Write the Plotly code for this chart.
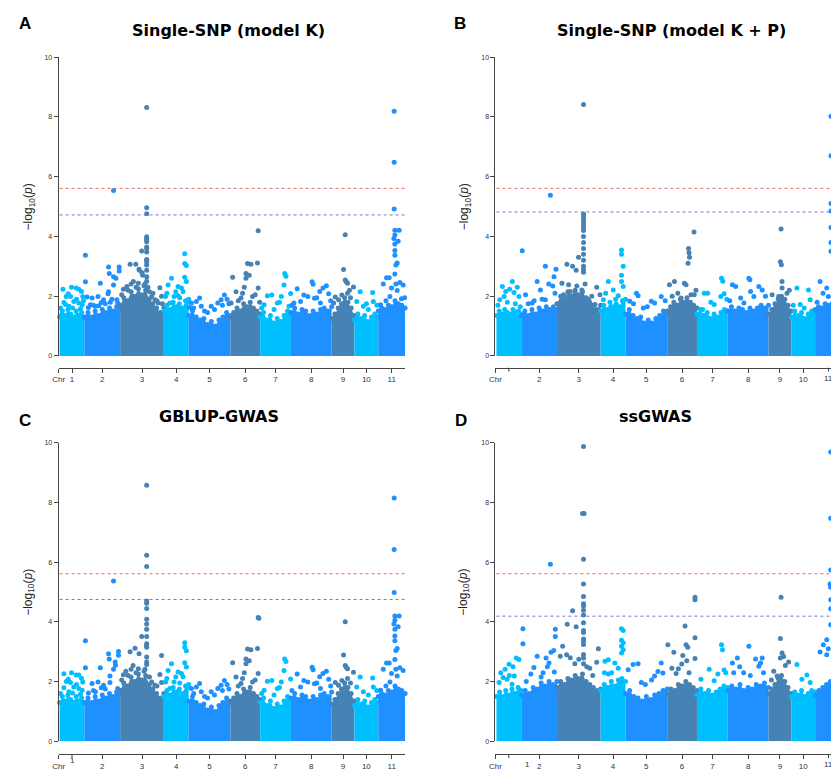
import numpy as np
import plotly.graph_objects as go

W, H = 831, 771

chrom_labels = ["1", "2", "3", "4", "5", "6", "7", "8", "9", "10", "11"]
chrom_len = [25, 36, 44, 25, 42, 30, 31, 41, 23, 24, 27]   # marker span per chromosome

# ---------------- Panel A : Single-SNP (model K) ----------------
A_title = "Single-SNP (model K)"
A_thr = [5.61, 4.72]
A_env = [[1.3, 1.5, 1.35, 1.55, 1.4, 1.3, 1.5, 1.35, 1.45, 1.3],
         [1.3, 1.45, 1.3, 1.5, 1.35, 1.55, 1.45, 1.6, 1.5, 1.65, 1.55],
         [1.7, 1.95, 1.85, 2.15, 2.0, 2.25, 2.05, 2.2, 1.9, 1.75, 1.6, 1.45, 1.6],
         [1.5, 1.7, 1.55, 1.8, 1.65, 1.75, 1.6, 1.85, 1.9],
         [1.35, 1.5, 1.3, 1.2, 1.25, 1.05, 1.15, 1.0, 1.2, 1.3, 1.45, 1.35],
         [1.3, 1.45, 1.6, 1.5, 1.75, 1.65, 1.8, 1.6, 1.5, 1.4],
         [1.3, 1.45, 1.2, 1.35, 1.1, 1.25, 1.15, 1.35, 1.5, 1.4],
         [1.45, 1.6, 1.4, 1.55, 1.5, 1.35, 1.5, 1.4, 1.55, 1.6, 1.5, 1.65],
         [1.25, 1.4, 1.6, 1.75, 1.95, 1.8, 1.6, 1.35],
         [1.2, 1.4, 1.25, 1.35, 1.15, 1.3, 1.4, 1.3],
         [1.5, 1.6, 1.55, 1.7, 1.65, 1.85, 1.75, 1.7, 1.6]]
A_pos = [[3.3, 12, 16.7, 19.3, 22, 8.7, 6.7, 11, 23.3, 4.3, 14.3, 19.3, 2, 9.3, 22.7, 1, 6, 13, 17, 21, 24],
         [1, 1, 2.7, 7.7, 13.7, 16, 24.3, 25, 29.3, 29.3, 31.7, 29.3, 35, 35, 24.3, 23.7, 19.3, 27.7, 32.7, 6, 11, 17, 4, 9, 14.5, 21, 26, 33.5],
         [26.7]*17 + [21.7, 10, 15.7, 19.3, 22.7, 19, 22, 40, 41.7, 3.3, 6.7, 11, 13.3, 18.3, 25, 31.7, 35, 38.3, 28, 1.5, 8, 16, 24, 29.5, 33, 37, 42.5],
         [21, 21, 22.7, 7.7, 21, 22.7, 14.3, 4.3, 17.7, 10.3, 1.7, 14.3, 19.3, 6, 23.7, 3, 12, 16],
         [11, 2.7, 7.7, 22.7, 29.3, 36, 38.7, 32.7, 26, 16, 12.7, 5, 19, 34, 40.5, 1],
         [28, 27.3, 17.3, 20.7, 15.7, 19, 2.3, 15.7, 28, 5.7, 12.3, 10.7, 22.3, 0.7, 8, 14, 25, 29.5],
         [24.7, 26, 24, 11.7, 7.3, 30.7, 21.3, 4, 17.3, 29, 1.5, 14, 19.5],
         [21.3, 22.3, 6.3, 35.7, 32.3, 29, 38, 13, 17, 23.7, 3, 9.7, 29.7, 1, 26, 40],
         [13.7, 12, 13.7, 14.7, 16, 22, 10.3, 16, 3.7, 7, 2, 19, 18],
         [5.7, 18.3, 2.3, 19, 14, 9, 22.5, 12],
         [16, 16, 16, 16.7, 21, 16.7, 15.7, 20, 16.7, 16.7, 16.7, 19, 17.7, 16.7, 8.3, 11, 5, 17.7, 21.7, 25, 13.3, 19, 23.3, 7.7, 11.7, 2.3, 26.5]]
A_val = [[2.23, 2.30, 2.27, 2.23, 2.16, 2.08, 1.99, 1.99, 1.99, 1.79, 1.82, 1.77, 1.38, 1.66, 1.71, 1.6, 1.72, 1.6, 1.9, 1.58, 1.85],
         [3.37, 2.48, 1.97, 1.94, 1.99, 2.43, 2.98, 2.76, 5.54, 2.65, 2.60, 2.37, 2.98, 2.84, 2.15, 2.08, 1.88, 1.90, 1.88, 1.71, 1.66, 1.79, 1.62, 1.7, 1.68, 1.75, 1.8, 1.77],
         [8.32, 4.96, 4.76, 3.99, 3.93, 3.87, 3.82, 3.65, 3.6, 3.48, 3.23, 3.2, 3.15, 3.04, 2.87, 2.65, 2.5,
          3.51, 3.07, 3.07, 2.87, 2.7, 2.9, 2.78, 2.28, 2.0, 2.23, 2.32, 2.41, 2.49, 2.43, 2.41, 1.99, 1.88, 1.77, 2.3, 2.05, 2.2, 2.3, 2.35, 2.15, 2.1, 1.85, 1.75],
         [3.42, 3.09, 3.03, 2.6, 2.63, 2.49, 2.32, 2.37, 2.27, 1.99, 1.99, 2.01, 2.16, 1.77, 1.82, 2.1, 2.15, 1.95],
         [1.94, 1.77, 1.82, 1.66, 1.77, 2.04, 1.90, 1.88, 1.55, 1.5, 1.66, 1.6, 1.45, 1.7, 1.75, 1.62],
         [4.19, 3.11, 3.09, 3.07, 2.76, 2.7, 2.63, 2.6, 2.27, 2.15, 2.1, 1.94, 1.99, 1.77, 1.85, 2.3, 2.05, 1.8],
         [2.76, 2.67, 2.37, 2.04, 2.01, 2.09, 1.99, 1.71, 1.77, 1.66, 1.6, 1.55, 1.8],
         [2.48, 2.40, 2.25, 2.35, 2.27, 2.16, 2.08, 2.04, 1.99, 1.93, 1.77, 1.82, 1.77, 1.7, 1.95, 1.85],
         [4.06, 2.89, 2.54, 2.48, 2.43, 2.31, 2.04, 2.1, 1.97, 1.88, 1.77, 1.95, 2.2],
         [2.15, 2.12, 1.82, 1.82, 1.55, 1.66, 1.7, 1.75],
         [8.19, 6.48, 4.92, 4.21, 4.21, 4.05, 3.93, 3.84, 3.75, 3.53, 3.37, 3.11, 3.04, 2.74, 2.62, 2.62, 2.41, 2.41, 2.46, 2.37, 2.27, 2.19, 1.91, 1.85, 1.99, 1.71, 1.95]]

# ---------------- Panel B : Single-SNP (model K + P) ----------------
B_title = "Single-SNP (model K + P)"
B_thr = [5.61, 4.82]
B_env = [[1.35, 1.5, 1.4, 1.55, 1.45, 1.4, 1.55, 1.45, 1.5, 1.4],
         [1.35, 1.5, 1.35, 1.55, 1.4, 1.6, 1.5, 1.65, 1.55, 1.65, 1.55],
         [1.75, 2.0, 1.9, 2.15, 2.0, 2.2, 2.05, 2.15, 1.95, 1.8, 1.7, 1.55, 1.7],
         [1.5, 1.7, 1.55, 1.8, 1.65, 1.75, 1.65, 1.85, 1.9],
         [1.4, 1.55, 1.35, 1.25, 1.3, 1.1, 1.2, 1.1, 1.25, 1.35, 1.5, 1.4],
         [1.5, 1.65, 1.8, 1.7, 1.9, 1.8, 1.95, 1.8, 1.7, 1.6],
         [1.4, 1.55, 1.35, 1.45, 1.25, 1.4, 1.3, 1.45, 1.55, 1.5],
         [1.5, 1.65, 1.5, 1.6, 1.55, 1.45, 1.6, 1.5, 1.6, 1.7, 1.6, 1.7],
         [1.4, 1.55, 1.75, 1.9, 2.0, 1.9, 1.7, 1.5],
         [1.3, 1.5, 1.35, 1.45, 1.25, 1.4, 1.5, 1.4],
         [1.55, 1.65, 1.6, 1.75, 1.7, 1.9, 1.8, 1.75, 1.65]]
B_pos = [[6, 9.3, 13.3, 17.7, 21, 22.7, 7.7, 3.3, 16, 1.5, 11, 19, 24],
         [29.3, 1, 24.3, 35, 33, 4.3, 16, 27.7, 31.7, 19.3, 11, 24.3, 7, 13, 21, 34],
         [26.7]*16 + [10, 15.7, 21.7, 19.3, 5, 11.7, 20, 28.3, 13.3, 18.3, 6.7, 25, 31.7, 38.3, 43.3, 35, 40],
         [21, 21, 22.7, 21, 7.7, 21, 12.7, 17.7, 2.7, 22.7, 5, 15],
         [4.3, 11, 12.7, 26, 36, 29.3, 8, 18, 22, 40],
         [27, 21.5, 22, 22.5, 21, 2.3, 7.3, 17.3, 19, 24, 10.7, 14, 27.3, 5, 29],
         [24.7, 26, 7.3, 10.7, 5.7, 24, 27.3, 17.3, 14, 30],
         [21.3, 22.3, 4.7, 8, 16.3, 26.3, 31.3, 34.7, 23, 13, 38, 2],
         [12.7, 12, 13, 13.7, 13.7, 3.7, 10.3, 15.3, 18.7, 21],
         [5.7, 17.3, 9, 19, 13, 2],
         [16, 16, 16, 16, 16, 16, 16, 5, 11.7, 13.3, 8, 2]]
B_val = [[2.32, 2.16, 2.23, 2.12, 2.3, 1.99, 1.99, 1.88, 2.49, 1.7, 1.8, 1.75, 1.65],
         [5.38, 3.52, 3.0, 2.9, 2.65, 2.05, 2.49, 2.41, 2.34, 2.21, 1.77, 1.88, 1.75, 1.85, 1.9, 2.1],
         [8.42, 4.75, 4.7, 4.6, 4.5, 4.4, 4.3, 4.2, 4.0, 3.8, 3.6, 3.4, 3.2, 3.0, 2.9, 2.8,
          3.07, 3.0, 3.3, 2.87, 2.43, 2.38, 2.34, 2.41, 2.16, 2.1, 2.05, 2.21, 1.88, 1.72, 2.05, 2.0, 2.3],
         [3.55, 3.4, 3.0, 2.7, 2.49, 2.49, 2.21, 2.01, 1.88, 2.32, 2.1, 1.9],
         [1.83, 2.1, 2.01, 1.83, 1.99, 1.77, 1.75, 1.6, 1.65, 1.85],
         [4.15, 3.6, 3.45, 3.3, 3.1, 2.38, 2.49, 2.43, 2.38, 2.05, 2.1, 1.94, 2.05, 2.0, 2.2],
         [2.6, 2.5, 2.1, 2.1, 1.55, 1.99, 2.08, 1.72, 1.8, 1.9],
         [2.6, 2.55, 2.38, 2.32, 1.77, 1.99, 2.32, 2.21, 2.16, 1.94, 2.0, 1.85],
         [4.25, 3.15, 3.05, 2.49, 2.27, 2.05, 1.99, 1.88, 2.1, 2.2],
         [2.27, 2.21, 1.72, 1.88, 1.6, 1.7],
         [8.02, 6.7, 5.1, 4.85, 4.3, 3.8, 3.5, 2.49, 2.27, 1.99, 2.1, 1.8]]

# ---------------- Panel C : GBLUP-GWAS ----------------
C_title = "GBLUP-GWAS"
C_thr = [5.61, 4.75]
C_env = [[1.3, 1.5, 1.35, 1.55, 1.4, 1.3, 1.5, 1.35, 1.45, 1.3],
         [1.3, 1.45, 1.3, 1.5, 1.35, 1.55, 1.45, 1.6, 1.5, 1.65, 1.55],
         [1.7, 1.95, 1.85, 2.15, 2.0, 2.25, 2.05, 2.2, 1.9, 1.75, 1.6, 1.45, 1.6],
         [1.5, 1.7, 1.55, 1.8, 1.65, 1.75, 1.6, 1.85, 1.9],
         [1.35, 1.5, 1.3, 1.2, 1.25, 1.05, 1.15, 1.0, 1.2, 1.3, 1.45, 1.35],
         [1.3, 1.45, 1.6, 1.5, 1.75, 1.65, 1.8, 1.6, 1.5, 1.4],
         [1.3, 1.45, 1.2, 1.35, 1.1, 1.25, 1.15, 1.35, 1.5, 1.4],
         [1.45, 1.6, 1.4, 1.55, 1.5, 1.35, 1.5, 1.4, 1.55, 1.6, 1.5, 1.65],
         [1.25, 1.4, 1.6, 1.75, 1.95, 1.8, 1.6, 1.35],
         [1.2, 1.4, 1.25, 1.35, 1.15, 1.3, 1.4, 1.3],
         [1.5, 1.6, 1.55, 1.7, 1.65, 1.85, 1.75, 1.7, 1.6]]
C_pos = [[4.3, 12, 16.7, 19.3, 22, 8.7, 6.7, 11, 23.3, 4.3, 14.3, 19.3, 9.3, 22.7, 1, 13, 17, 21],
         [1, 1, 16, 24.3, 25, 29.3, 31, 31.3, 34.3, 34.3, 29.3, 25.7, 25.7, 7.7, 13.7, 19.3, 11, 17, 4, 9, 21, 33.5],
         [26.7]*16 + [21.7, 15, 10, 19, 41.7, 40, 41.7, 13, 5.7, 3.3, 11, 18.3, 25, 31.7, 35, 1.5, 8, 16, 24, 29.5, 37],
         [21, 21, 22.7, 7.7, 21, 22.7, 14.3, 4.3, 17.7, 10.3, 1.7, 19.3, 6, 23.7, 3, 12, 16],
         [11, 2.7, 7.7, 22.7, 29.3, 36, 38.7, 32.7, 26, 16, 12.7, 5, 19, 34, 40.5],
         [28, 28.7, 27.3, 17.3, 20.7, 15.7, 19, 2.3, 15.7, 28, 5.7, 12.3, 10.7, 22.3, 8, 14, 25],
         [24.7, 26, 24, 11.7, 7.3, 30.7, 21.3, 4, 17.3, 1.5, 14, 19.5],
         [21.3, 22.3, 6.3, 35.7, 32.3, 29, 38, 13, 17, 23.7, 9.7, 29.7, 1, 26, 40],
         [13.7, 12, 13.7, 14.7, 16, 22, 10.3, 16, 3.7, 7, 19],
         [5.7, 18.3, 2.3, 19, 14, 9, 22.5],
         [16, 16, 16, 16.7, 21, 16.7, 15.7, 20, 16.7, 16.7, 16.7, 19, 17.7, 16.7, 8.3, 11, 5, 17.7, 21.7, 25, 13.3, 19, 7.7, 11.7, 2.3]]
C_val = [[2.26, 2.30, 2.22, 2.22, 2.11, 2.08, 2.0, 1.97, 1.99, 1.79, 1.82, 1.77, 1.66, 1.71, 1.6, 1.62, 1.9, 1.58],
         [3.37, 2.46, 2.46, 2.93, 2.76, 5.37, 2.66, 2.55, 3.01, 2.88, 2.41, 2.19, 1.97, 1.94, 1.99, 1.88, 1.66, 1.79, 1.62, 1.7, 1.75, 1.77],
         [8.57, 6.23, 5.85, 4.70, 4.62, 4.45, 4.09, 3.93, 3.75, 3.51, 3.27, 3.21, 3.15, 2.82, 2.66, 2.57,
          3.51, 3.12, 3.0, 2.93, 2.87, 2.24, 1.97, 2.54, 2.35, 2.23, 2.41, 2.43, 2.41, 1.99, 1.88, 2.05, 2.2, 2.3, 2.35, 2.15, 1.85],
         [3.3, 3.15, 3.03, 2.6, 2.63, 2.49, 2.32, 2.37, 2.27, 1.99, 1.99, 2.16, 1.77, 1.82, 2.1, 2.15, 1.95],
         [1.94, 1.77, 1.82, 1.66, 1.77, 2.04, 1.90, 1.88, 1.55, 1.5, 1.66, 1.6, 1.45, 1.7, 1.75],
         [4.15, 4.12, 3.11, 3.09, 3.07, 2.76, 2.7, 2.63, 2.6, 2.27, 2.15, 2.1, 1.94, 1.99, 1.85, 2.3, 2.05],
         [2.76, 2.67, 2.37, 2.04, 2.01, 2.09, 1.99, 1.71, 1.77, 1.6, 1.55, 1.8],
         [2.48, 2.40, 2.25, 2.35, 2.27, 2.16, 2.08, 2.04, 1.99, 1.93, 1.82, 1.77, 1.7, 1.95, 1.85],
         [4.0, 2.89, 2.54, 2.48, 2.43, 2.31, 2.04, 2.1, 1.97, 1.88, 1.95],
         [2.15, 2.12, 1.82, 1.82, 1.55, 1.66, 1.7],
         [8.15, 6.42, 4.98, 4.2, 4.2, 4.05, 3.93, 3.84, 3.75, 3.53, 3.37, 3.11, 3.04, 2.74, 2.62, 2.62, 2.41, 2.41, 2.46, 2.37, 2.27, 2.19, 1.85, 1.99, 1.71]]

# ---------------- Panel D : ssGWAS ----------------
D_title = "ssGWAS"
D_thr = [5.61, 4.19]
D_env = [[1.5, 1.65, 1.5, 1.7, 1.55, 1.75, 1.6, 1.8, 1.7],
         [1.55, 1.7, 1.6, 1.8, 1.75, 1.95, 1.85, 2.0, 1.9, 2.0],
         [1.8, 2.0, 1.9, 2.1, 2.05, 2.2, 2.1, 2.25, 2.0, 1.9, 1.8, 1.7, 1.75],
         [1.7, 1.9, 1.8, 2.0, 1.85, 2.05, 2.1, 2.0],
         [1.6, 1.7, 1.5, 1.45, 1.35, 1.5, 1.4, 1.55, 1.6, 1.7, 1.75],
         [1.6, 1.75, 1.7, 1.9, 1.85, 2.0, 1.9, 1.8, 1.7],
         [1.55, 1.75, 1.6, 1.7, 1.55, 1.65, 1.75, 1.85, 1.8],
         [1.7, 1.85, 1.75, 1.9, 1.7, 1.8, 1.75, 1.9, 1.85, 1.95, 1.8],
         [1.6, 1.75, 1.9, 2.1, 2.2, 2.0, 1.8, 1.6],
         [1.5, 1.65, 1.55, 1.7, 1.5, 1.6, 1.7, 1.65],
         [1.55, 1.7, 1.8, 1.9, 2.0, 2.1, 2.0, 1.9]]
D_pos = [[4.3, 8.7, 12.7, 16.7, 20, 22.7, 18, 2.7, 10.7, 15.7, 6.7, 13],
         [1.7, 1.7, 29.3, 34.3, 34.3, 32.7, 30, 16, 25, 28, 26.3, 33.3, 12.7, 9.7, 20, 5, 22],
         [26.7, 25.7, 27.3] + [26.7]*16 + [15.7, 10.3, 19.3, 5.7, 41.7, 40, 9.7, 3.3, 13.3, 22, 33, 36, 30, 18],
         [21, 22.7, 21, 22.7, 21, 22.7, 21, 4.3, 7.7, 14.3, 17.7, 3.7, 7.7, 11],
         [7.7, 12.7, 2.7, 36, 32.7, 37.7, 29.3, 16, 26.3, 20],
         [28, 28, 18, 28, 19, 20.7, 0.7, 6.7, 15.7, 28, 19.7, 14.7, 4.7, 11.3, 22, 9],
         [24.7, 25.7, 12.3, 27.3, 29, 4, 17.3, 21],
         [21.3, 9.7, 4.7, 28, 34.7, 33, 31.3, 16, 22.7, 36, 6, 12],
         [12.7, 12, 13.7, 12, 15.3, 20.3, 17, 5.3, 8.7, 3],
         [5.7, 15.7, 10.7, 19],
         [15.7, 15.7, 15.7, 15, 15.7, 15.7, 15.7, 15.7, 11.7, 8.3, 5, 13.3, 11.7]]
D_val = [[2.3, 2.41, 2.58, 2.5, 2.79, 2.74, 2.19, 1.97, 2.08, 1.91, 2.14, 2.2],
         [3.77, 3.27, 5.93, 3.75, 3.51, 3.04, 2.98, 2.85, 2.79, 2.62, 2.5, 2.32, 2.47, 2.25, 2.15, 2.0, 2.3],
         [9.87, 7.63, 7.63, 6.1, 5.27, 4.85, 4.61, 4.53, 4.39, 4.23, 3.97, 3.71, 3.64, 3.43, 3.35, 3.24, 2.91, 2.79, 2.6,
          4.37, 3.92, 3.84, 3.18, 3.1, 2.65, 2.9, 2.85, 2.8, 2.75, 2.45, 2.2, 2.5, 2.6],
         [3.77, 3.71, 3.38, 3.30, 3.18, 3.07, 2.96, 2.68, 2.73, 2.62, 2.45, 2.3, 2.25, 2.3],
         [2.57, 2.6, 2.4, 2.62, 2.34, 2.29, 2.19, 1.97, 2.05, 1.9],
         [4.82, 4.74, 3.86, 3.47, 3.23, 3.15, 3.23, 2.98, 2.87, 2.77, 2.7, 2.59, 2.45, 2.43, 2.3, 2.27],
         [3.23, 3.07, 2.41, 2.39, 2.3, 2.08, 2.03, 2.25],
         [3.18, 2.79, 2.62, 2.76, 2.79, 2.62, 2.51, 2.3, 2.2, 2.3, 2.3, 2.5],
         [4.82, 3.44, 2.96, 2.79, 2.84, 2.66, 2.54, 2.35, 2.19, 2.05],
         [2.57, 2.22, 2.08, 1.97],
         [9.69, 7.47, 5.74, 5.27, 5.16, 4.74, 4.44, 3.9, 3.4, 3.23, 2.99, 3.1, 2.9]]

y_ticks = [0, 2, 4, 6, 8, 10]

# ---------------- drawing ----------------
colors = ["#00BFFF", "#1E90FF", "#4682B4"]
offsets = np.concatenate([[0], np.cumsum(chrom_len)[:-1]])
centers = offsets + np.array(chrom_len) / 2.0
total = float(sum(chrom_len))
LBL = dict(size=8, color="#333", family="Liberation Sans")


def px(x):
    return x / W


def py(y):
    return 1 - y / H


# label_fix: chromosome index -> label pixel position (None = label not printed)
panels = [
    dict(title=A_title, env=A_env, pos=A_pos, val=A_val, thr=A_thr, letter="A",
         xd=(53, 402), xr=(-1, 348), yd=(54, 357), xline=369, tpos=(224, 27), lpos=(19, 20), ylab=23,
         label_fix={}),
    dict(title=B_title, env=B_env, pos=B_pos, val=B_val, thr=B_thr, letter="B",
         xd=(493, 831), xr=(-1, 337), yd=(54, 357), xline=369, tpos=(670, 27), lpos=(457, 20), ylab=462,
         label_fix={0: None, 10: (828.5, 380)}),
    dict(title=C_title, env=C_env, pos=C_pos, val=C_val, thr=C_thr, letter="C",
         xd=(53, 402), xr=(-1, 348), yd=(445, 748), xline=761, tpos=(215, 418), lpos=(19, 423), ylab=23,
         label_fix={0: (67, 767)}),
    dict(title=D_title, env=D_env, pos=D_pos, val=D_val, thr=D_thr, letter="D",
         xd=(493, 831), xr=(-1, 337), yd=(445, 748), xline=761, tpos=(654, 418), lpos=(458, 423), ylab=461,
         label_fix={0: (525, 772), 10: (828.5, 772)}),
]

fig = go.Figure()
layout = dict(width=W, height=H, margin=dict(l=0, r=0, t=0, b=0), showlegend=False,
              plot_bgcolor="white", paper_bgcolor="white")
annotations = []
shapes = []

for i, p in enumerate(panels, start=1):
    xa = "x" if i == 1 else "x%d" % i
    ya = "y" if i == 1 else "y%d" % i
    for c in range(len(chrom_len)):
        col = colors[c % 3]
        off = offsets[c]
        L = chrom_len[c]
        env = p["env"][c]
        n = len(env)
        ex = [off + L * k / (n - 1) for k in range(n)]
        fig.add_trace(go.Scatter(x=[off] + ex + [off + L], y=[0] + env + [0], mode="lines",
                                 fill="toself", fillcolor=col, line=dict(width=0, color=col),
                                 xaxis=xa, yaxis=ya, hoverinfo="skip"))
        xs = ex + [off + v for v in p["pos"][c]]
        ys = env + p["val"][c]
        fig.add_trace(go.Scatter(x=xs, y=ys, mode="markers", marker=dict(size=5, color=col),
                                 xaxis=xa, yaxis=ya, cliponaxis=False, hoverinfo="skip"))
    # threshold lines
    for val, lc in zip(p["thr"], ["#E06A6A", "#7474DE"]):
        shapes.append(dict(type="line", xref=xa, yref=ya, x0=0, x1=total, y0=val, y1=val,
                           line=dict(color=lc, width=1, dash="dot")))
    tickvals = [-1]
    ticktext = ["Chr"]
    for c in range(len(chrom_len)):
        if c in p["label_fix"]:
            shapes.append(dict(type="line", xref=xa, yref="paper", x0=centers[c], x1=centers[c],
                               y0=py(p["xline"]), y1=py(p["xline"] + 4), line=dict(color="#444", width=1)))
            where = p["label_fix"][c]
            if where is not None:
                annotations.append(dict(text=chrom_labels[c], x=px(where[0]), y=py(where[1]), xref="paper",
                                        yref="paper", showarrow=False, font=LBL,
                                        xanchor="center", yanchor="middle"))
        else:
            tickvals.append(centers[c])
            ticktext.append(chrom_labels[c])
    axkey = "xaxis" if i == 1 else "xaxis%d" % i
    aykey = "yaxis" if i == 1 else "yaxis%d" % i
    layout[axkey] = dict(domain=[px(p["xd"][0]), px(p["xd"][1])], range=list(p["xr"]), anchor="free",
                         position=py(p["xline"]), showline=True, linecolor="#444", linewidth=1,
                         ticks="outside", ticklen=4, tickcolor="#444", tickvals=tickvals,
                         ticktext=ticktext, tickfont=LBL,
                         showgrid=False, zeroline=False, fixedrange=True)
    layout[aykey] = dict(domain=[py(p["yd"][1]), py(p["yd"][0])], range=[0, 10], anchor=xa,
                         showline=True, linecolor="#444", linewidth=1, ticks="outside", ticklen=4,
                         tickcolor="#444", tickvals=y_ticks, ticktext=[str(t) for t in y_ticks],
                         tickfont=dict(size=7, color="#333", family="Liberation Sans"),
                         showgrid=False, zeroline=False, fixedrange=True)
    annotations.append(dict(text="<b>%s</b>" % p["title"], x=px(p["tpos"][0]), y=py(p["tpos"][1]),
                            xref="paper", yref="paper", showarrow=False,
                            font=dict(size=16, color="black", family="DejaVu Sans"),
                            xanchor="center", yanchor="middle"))
    annotations.append(dict(text="<b>%s</b>" % p["letter"], x=px(p["lpos"][0]), y=py(p["lpos"][1]),
                            xref="paper", yref="paper", showarrow=False,
                            font=dict(size=17, color="black", family="Liberation Sans"),
                            xanchor="center", yanchor="middle"))
    annotations.append(dict(text="\u2212log<sub>10</sub>(<i>p</i>)", x=px(p["ylab"]),
                            y=py((p["yd"][0] + p["yd"][1]) / 2), xref="paper", yref="paper",
                            showarrow=False, textangle=-90,
                            font=dict(size=12, color="#222", family="Liberation Sans"),
                            xanchor="center", yanchor="middle"))

layout["annotations"] = annotations
layout["shapes"] = shapes
fig.update_layout(**layout)
fig.write_html("out.html", config={"displayModeBar": False},
               post_script="document.body.style.margin='0px';document.body.style.overflow='hidden';")
